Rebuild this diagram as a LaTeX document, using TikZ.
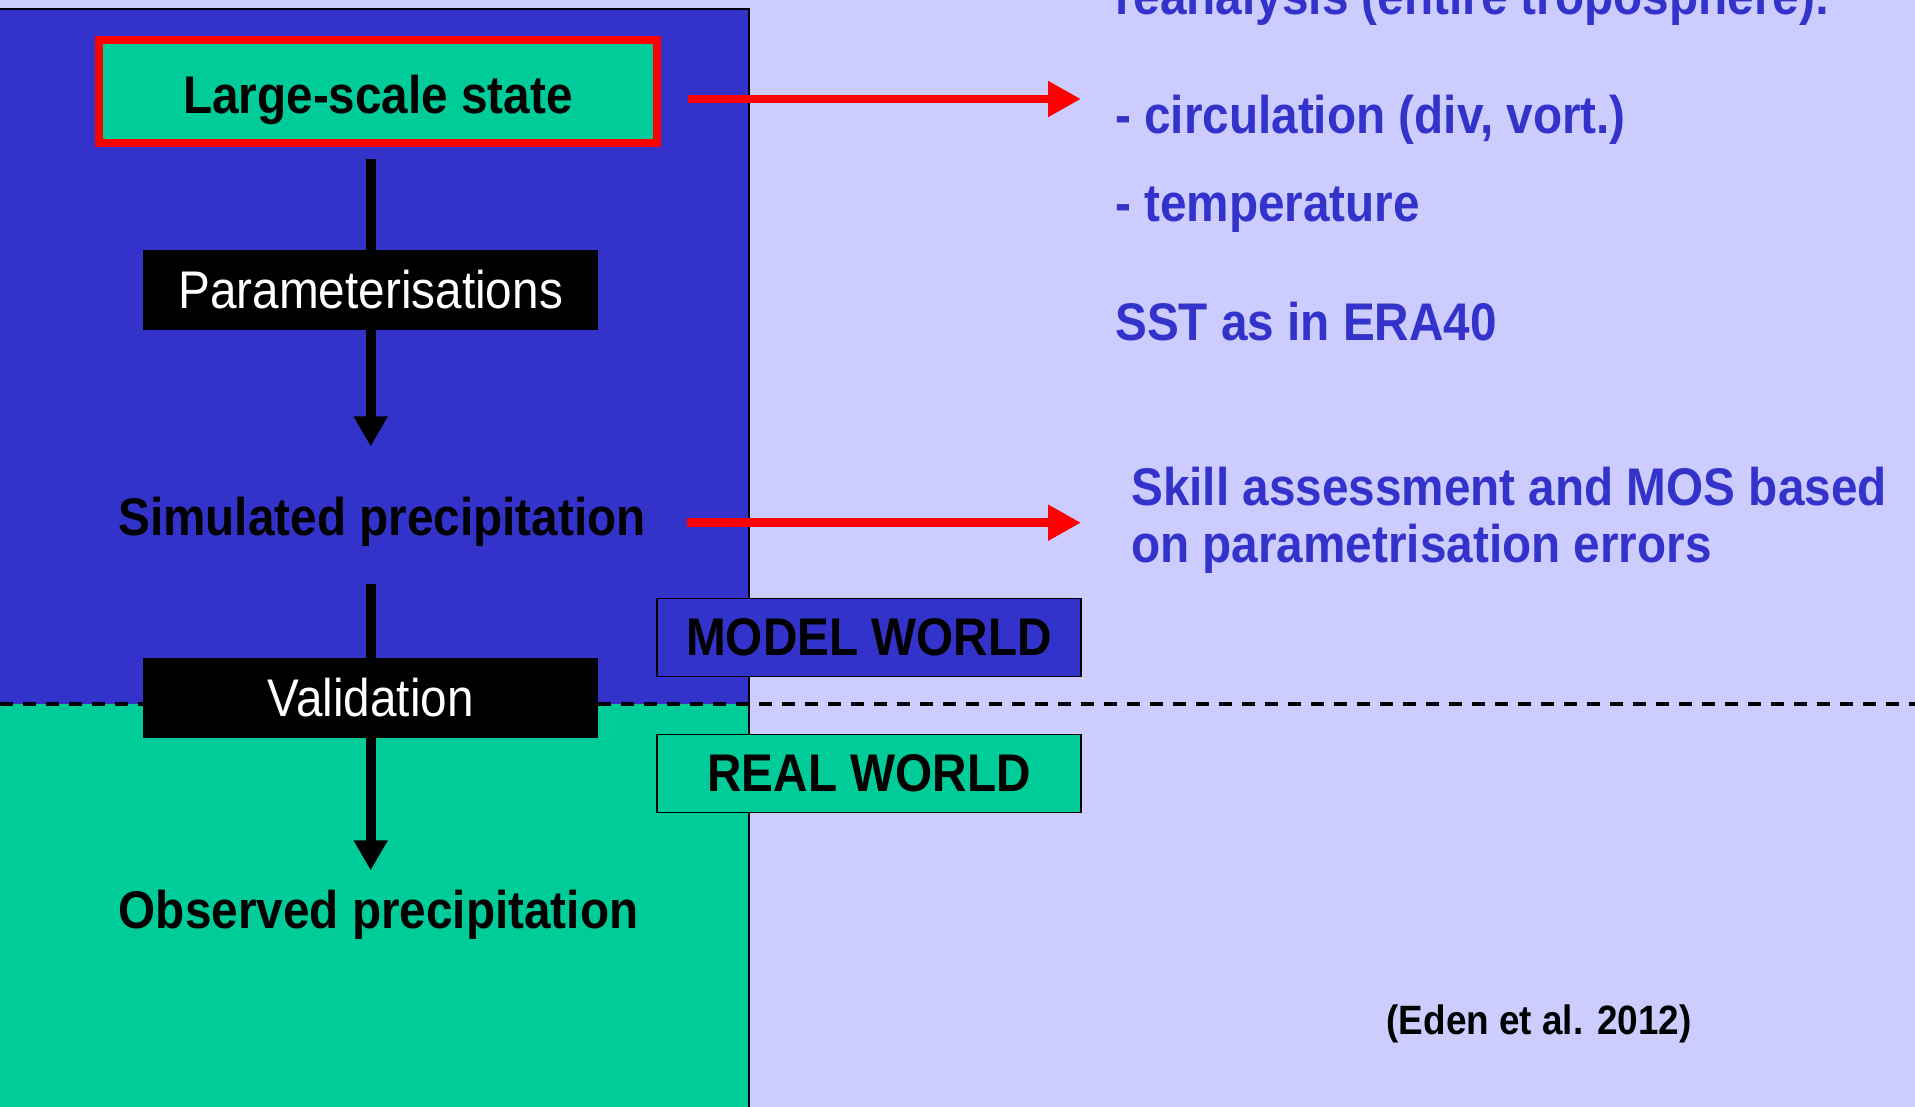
\documentclass[tikz,border=0pt]{standalone}
\usepackage{fontspec}
\setmainfont[FakeStretch=0.9]{Liberation Sans}
\usetikzlibrary{arrows.meta,calc}
\definecolor{panelblue}{HTML}{3333CC}
\definecolor{panelgreen}{HTML}{00CC99}
\definecolor{lavender}{HTML}{CCCCFF}
\definecolor{arrowred}{HTML}{FF0000}
\begin{document}
\begin{tikzpicture}[x=1pt,y=-1pt,
  bigbold/.style={font=\fontsize{53}{60}\selectfont\bfseries},
  bigreg/.style={font=\fontsize{53}{60}\selectfont},
  blackbox/.style={fill=black,text=white,bigreg,minimum width=455pt,minimum height=80pt,inner sep=0pt},
  worldbox/.style={draw=black,line width=1.5pt,bigbold,minimum width=424pt,minimum height=78pt,inner sep=0pt},
  plaintext/.style={bigbold,inner sep=0pt},
  righttext/.style={bigbold,text=panelblue,inner sep=0pt,anchor=base west},
  flowline/.style={line width=10pt,black},
  flowarrow/.style={line width=10pt,black,-{Triangle[length=30pt,width=32pt]}},
  redarrow/.style={line width=8.5pt,arrowred,-{Triangle[length=33pt,width=34pt]}}
]
\useasboundingbox (0,0) rectangle (1915,1107);
\clip (0,0) rectangle (1915,1107);
% backgrounds
\fill[lavender] (0,0) rectangle (1915,1107);
\fill[panelblue] (0,9) rectangle (749,703.5);
\fill[panelgreen] (0,703.5) rectangle (749,1107);
\draw[black,line width=2pt] (0,9) -- (749,9) -- (749,1107);
% dashed separator
\draw[black,line width=4pt,dash pattern=on 13pt off 10pt] (0,704) -- (1915,704);

% main flow nodes
\node[draw=arrowred,line width=8pt,fill=panelgreen,bigbold,minimum width=558pt,minimum height=103pt,inner sep=0pt,text height=44pt,text depth=0pt] (lss) at (378,91.5) {Large-scale state};
\node[blackbox] (param) at (370.7,290) {Parameterisations};
\node[plaintext,anchor=base] (sim) at (382,535) {Simulated precipitation};
\node[blackbox] (val) at (370.7,698) {Validation};
\node[plaintext,anchor=base] (obs) at (378.6,928) {Observed precipitation};

% world boxes
\node[worldbox,fill=panelblue] (model) at (869,637.5) {MODEL WORLD};
\node[worldbox,fill=panelgreen] (real) at (869,773.5) {REAL WORLD};

% right texts
\node[righttext] (rean) at (1115,14.6) {reanalysis (entire troposphere):};
\node[righttext] (circ) at (1115,134) {- circulation (div, vort.)};
\node[righttext] (temp) at (1115,222) {- temperature};
\node[righttext] (sst) at (1115,340.7) {SST as in ERA40};
\node[righttext] (skill1) at (1131,505.6) {Skill assessment and MOS based};
\node[righttext] (skill2) at (1131,562) {on parametrisation errors};
\node[font=\fontsize{41}{48}\selectfont\bfseries,inner sep=0pt] (eden) at (1539,1023.4) {(Eden et al. 2012)};

% connectors
\draw[flowline,shorten <=12pt] (param.north |- lss.south) -- (param.north);
\draw[flowarrow,shorten >=50pt] (param.south) -- (param.south |- sim.north);
\draw[flowline,shorten <=38pt] (val.north |- sim.south) -- (val.north);
\draw[flowarrow,shorten >=19pt] (val.south) -- (val.south |- obs.north);

\coordinate (a1end) at (1081,99);
\coordinate (a2end) at (1081,522.7);
\draw[redarrow,shorten <=26.6pt] (lss.east |- a1end) -- (a1end);
\draw[redarrow,shorten <=40.6pt] (sim.east |- a2end) -- (a2end);
\end{tikzpicture}
\end{document}
